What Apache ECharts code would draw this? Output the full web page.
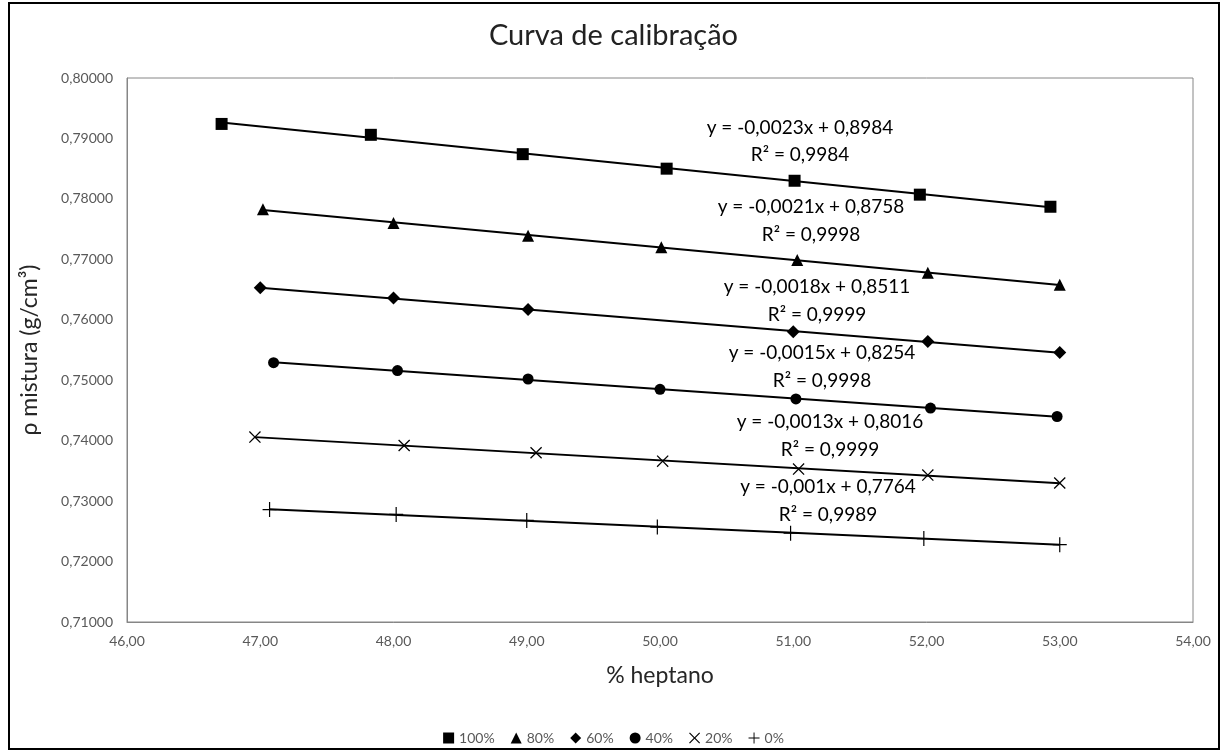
<!DOCTYPE html>
<html>
<head>
<meta charset="utf-8">
<script src="https://cdn.jsdelivr.net/npm/echarts@6/dist/echarts.min.js"></script>
<style>
html,body{margin:0;padding:0;background:#fff;}
#chart{width:1227px;height:752px;}
</style>
</head>
<body>
<div id="chart"></div>
<script>
// ---- data ----
const seriesNames = ['100%', '80%', '60%', '40%', '20%', '0%'];
const x100 = [46.71, 47.83, 48.97, 50.05, 51.01, 51.95, 52.93];
const y100 = [0.7924, 0.7906, 0.7874, 0.7850, 0.7830, 0.7807, 0.7787];
const x80 = [47.02, 48.00, 49.01, 50.01, 51.03, 52.01, 53.00];
const y80 = [0.7783, 0.7760, 0.7739, 0.7720, 0.7699, 0.7678, 0.7658];
const x60 = [47.00, 48.00, 49.01, 51.00, 52.01, 53.00];
const y60 = [0.7653, 0.7636, 0.7617, 0.7580, 0.7564, 0.7546];
const x40 = [47.10, 48.03, 49.01, 50.00, 51.02, 52.03, 52.98];
const y40 = [0.7529, 0.7516, 0.7502, 0.7485, 0.7469, 0.7454, 0.7440];
const x20 = [46.96, 48.08, 49.07, 50.02, 51.04, 52.01, 53.00];
const y20 = [0.7406, 0.7392, 0.7380, 0.7366, 0.7353, 0.7343, 0.7330];
const x0 = [47.07, 48.02, 49.00, 49.98, 50.98, 51.98, 53.00];
const y0 = [0.7286, 0.7278, 0.7268, 0.7257, 0.7247, 0.7238, 0.7228];
const equations = ['y = -0,0023x + 0,8984', 'y = -0,0021x + 0,8758', 'y = -0,0018x + 0,8511',
                   'y = -0,0015x + 0,8254', 'y = -0,0013x + 0,8016', 'y = -0,001x + 0,7764'];
const r2Values = ['R² = 0,9984', 'R² = 0,9998', 'R² = 0,9999', 'R² = 0,9998', 'R² = 0,9999', 'R² = 0,9989'];
const xTicks = {min: 46, max: 54, interval: 1};
const yTicks = {min: 0.71, max: 0.80, interval: 0.01};

// ---- styling ----
const FONT = 'Lato';
const xsAll = [x100, x80, x60, x40, x20, x0];
const ysAll = [y100, y80, y60, y40, y20, y0];
const PLUS = 'path://M6.4,0 H7.6 V6.4 H14 V7.6 H7.6 V14 H6.4 V7.6 H0 V6.4 H6.4 Z';
const CROSS = 'path://M0.9,0 L6,5.1 L11.1,0 L12,0.9 L6.9,6 L12,11.1 L11.1,12 L6,6.9 L0.9,12 L0,11.1 L5.1,6 L0,0.9 Z';
const symbols = ['rect', 'triangle', 'diamond', 'circle', CROSS, PLUS];
const symSizes = [12, 12, 13, 11, 12, [14, 15]];
const labelPos = [[800,128,155],[811,207,235],[817,287,315],[822,353,381],[830,422,450],[828,487,515]];

function fit(xs, ys) {
  const n = xs.length;
  let sx=0, sy=0, sxx=0, sxy=0;
  for (let i=0;i<n;i++){sx+=xs[i];sy+=ys[i];sxx+=xs[i]*xs[i];sxy+=xs[i]*ys[i];}
  const b = (n*sxy - sx*sy)/(n*sxx - sx*sx);
  const a = (sy - b*sx)/n;
  const x1 = Math.min(...xs), x2 = Math.max(...xs);
  return [[x1, a + b*x1], [x2, a + b*x2]];
}

const series = [];
seriesNames.forEach((nm, i) => {
  series.push({
    name: nm + '_trend', type: 'line', data: fit(xsAll[i], ysAll[i]),
    symbol: 'none', lineStyle: {color: '#000', width: 2}, z: 2, silent: true
  });
});
seriesNames.forEach((nm, i) => {
  series.push({
    name: nm, type: 'scatter', data: xsAll[i].map((x, k) => [x, ysAll[i][k]]),
    symbol: symbols[i], symbolSize: symSizes[i],
    itemStyle: {color: '#000', opacity: 1}, z: 5
  });
});

const graphics = [{
  type: 'rect', shape: {x: 9, y: 3, width: 1210, height: 746},
  style: {fill: 'none', stroke: '#000', lineWidth: 2}, silent: true
}];
labelPos.forEach((p, i) => {
  graphics.push({type:'text', x:p[0], y:p[1], style:{text:equations[i], fill:'#000', font:'19px '+FONT, textAlign:'center', textVerticalAlign:'middle'}});
  graphics.push({type:'text', x:p[0], y:p[2], style:{text:r2Values[i], fill:'#000', font:'19px '+FONT, textAlign:'center', textVerticalAlign:'middle'}});
});

const chart = echarts.init(document.getElementById('chart'));
chart.setOption({
  animation: false,
  backgroundColor: '#fff',
  textStyle: {fontFamily: FONT},
  title: {text: 'Curva de calibração', left: 'center', top: 16,
          textStyle: {fontFamily: FONT, fontSize: 29, fontWeight: 'normal', color: '#222'}},
  grid: {left: 127, right: 34, top: 78, bottom: 130, show: true, borderColor: '#868686', borderWidth: 1},
  legend: {
    bottom: 2, left: 'center', itemWidth: 11, itemHeight: 11, itemGap: 16,
    data: seriesNames,
    textStyle: {fontFamily: FONT, fontSize: 14, color: '#595959'}
  },
  xAxis: {
    type: 'value', min: xTicks.min, max: xTicks.max, interval: xTicks.interval,
    name: '% heptano', nameLocation: 'middle', nameGap: 42,
    nameTextStyle: {fontFamily: FONT, fontSize: 23, color: '#262626'},
    axisLine: {show: true, lineStyle: {color: '#868686'}}, axisTick: {show: false},
    splitLine: {show: false},
    axisLabel: {formatter: v => v.toFixed(2).replace('.', ','), color: '#595959', fontSize: 14, margin: 12}
  },
  yAxis: {
    type: 'value', min: yTicks.min, max: yTicks.max, interval: yTicks.interval,
    name: 'ρ mistura (g/cm³)', nameLocation: 'middle', nameGap: 86, nameRotate: 90,
    nameTextStyle: {fontFamily: FONT, fontSize: 23, color: '#262626'},
    axisLine: {show: true, lineStyle: {color: '#868686'}}, axisTick: {show: false},
    splitLine: {show: false},
    axisLabel: {formatter: v => v.toFixed(5).replace('.', ','), color: '#595959', fontSize: 14, margin: 14}
  },
  graphic: graphics,
  series: series
});
</script>
</body>
</html>
